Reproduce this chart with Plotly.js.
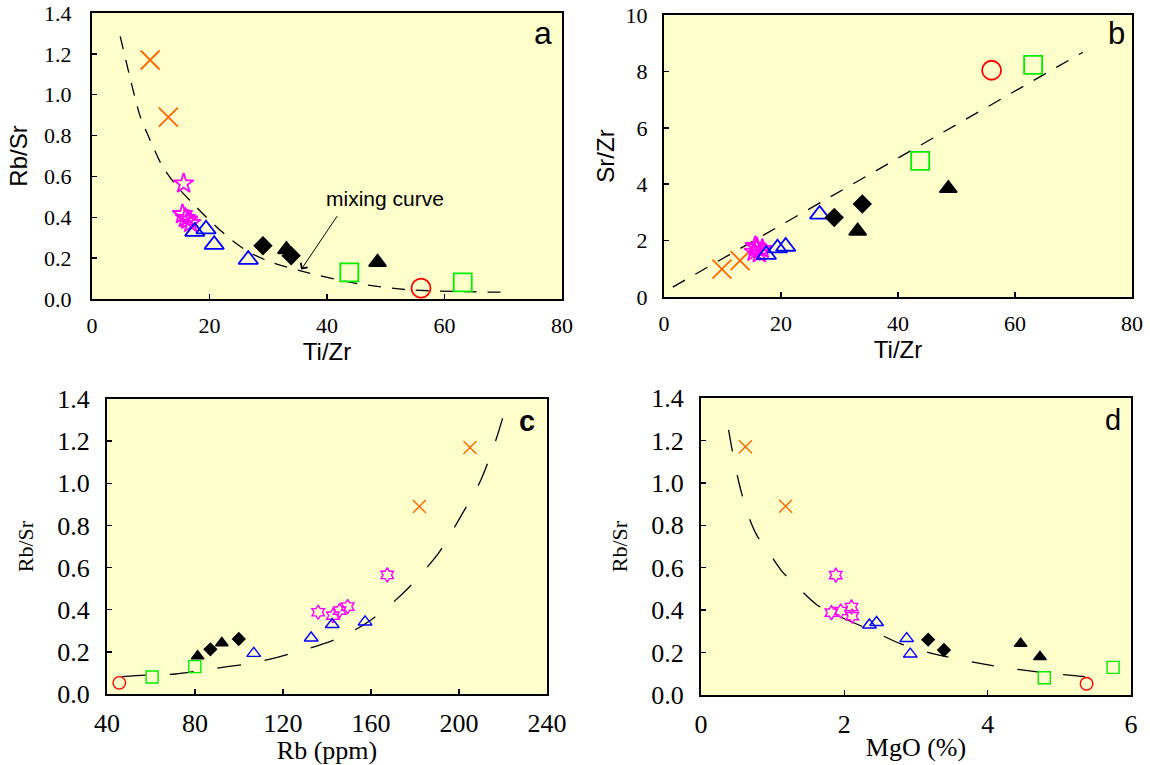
<!DOCTYPE html>
<html><head><meta charset="utf-8">
<script src="https://cdn.plot.ly/plotly-3.0.1.min.js"></script>
<style>html,body{margin:0;padding:0;background:#fff}#chart{width:1150px;height:765px}</style>
</head><body><div id="chart"></div><script>
// ---- sample data ----
// orange crosses
const crossTiZr = [9.9, 13.0];
const crossRbSr = [1.17, 0.89];
const crossSrZr = [0.99, 1.29];
const crossRb   = [205, 182];
const crossMgO  = [0.62, 1.18];
// magenta stars
const starTiZr = [15.6, 15.4, 15.9, 16.3, 16.8];
const starRbSr = [0.565, 0.415, 0.396, 0.388, 0.372];
const starSrZr = [1.8, 1.6, 1.75, 1.55, 1.7];
const starRb   = [167.4, 149.4, 145.7, 136.0, 142.7];
const starMgO  = [1.88, 2.10, 1.95, 1.82, 2.11];
// blue open triangles
const triTiZr = [17.5, 19.4, 20.8, 26.6];
const triRbSr = [0.330, 0.342, 0.266, 0.193];
const triSrZr = [1.50, 1.73, 1.79, 2.93];
const triRb   = [142.4, 157.3, 132.8, 106.7];
const triMgO  = [2.35, 2.45, 2.87, 2.92];
// black diamonds
const diaTiZr = [29.1, 33.9];
const diaRbSr = [0.261, 0.212];
const diaSrZr = [2.82, 3.30];
const diaRb   = [99.9, 87.0];
const diaMgO  = [3.17, 3.39];
// black filled triangles
const btTiZr = [33.1, 48.6];
const btRbSr = [0.242, 0.180];
const btSrZr = [2.34, 3.85];
const btRb   = [92.2, 81.2];
const btMgO  = [4.46, 4.73];
// green squares
const sqTiZr = [43.8, 63.1];
const sqRbSr = [0.130, 0.081];
const sqSrZr = [4.83, 8.23];
const sqRb   = [79.9, 60.5];
const sqMgO  = [5.75, 4.79];
// red circle
const cirTiZr = [56.0];
const cirRbSr = [0.053];
const cirSrZr = [8.04];
const cirRb   = [45.6];
const cirMgO  = [5.38];

// mixing curves
const curveA_x = [4.8, 6.7, 8.2, 9.5, 12.0, 14.5, 17.1, 19.6, 23.7, 27.0, 30.9, 36.5, 44.7, 53.5, 62.9, 70.4];
const curveA_y = [1.286, 1.057, 0.894, 0.804, 0.649, 0.55, 0.47, 0.396, 0.29, 0.225, 0.176, 0.13, 0.078, 0.046, 0.036, 0.033];
const curveB_x = [1.5, 71.6];
const curveB_y = [0.35, 8.68];
const curveC_x = [46.7, 58.5, 71.1, 82.1, 94.7, 105.7, 117.4, 129.2, 139.3, 149.4, 159.5, 167.9, 176.4, 183.1, 190.7, 200.8, 210.0, 216.8, 220.1];
const curveC_y = [0.082, 0.09, 0.095, 0.111, 0.13, 0.146, 0.174, 0.209, 0.241, 0.285, 0.348, 0.415, 0.497, 0.573, 0.668, 0.843, 1.017, 1.207, 1.318];
const curveD_x = [0.385, 0.436, 0.532, 0.649, 0.776, 0.953, 1.13, 1.36, 1.61, 1.97, 2.37, 2.78, 3.18, 3.59, 4.15, 4.76, 5.21, 5.59];
const curveD_y = [1.25, 1.153, 0.997, 0.856, 0.755, 0.669, 0.583, 0.505, 0.427, 0.364, 0.306, 0.242, 0.2, 0.169, 0.134, 0.106, 0.091, 0.081];

// axis labels / ticks
const titleA_x = 'Ti/Zr', titleA_y = 'Rb/Sr';
const titleB_x = 'Ti/Zr', titleB_y = 'Sr/Zr';
const titleC_x = 'Rb (ppm)', titleC_y = 'Rb/Sr';
const titleD_x = 'MgO (%)', titleD_y = 'Rb/Sr';
const panelLetters = ['a', 'b', 'c', 'd'];
const curveLabel = 'mixing curve';

// ---- styling ----
const SERIF = '"Liberation Serif", "Times New Roman", serif';
const SANS = '"Liberation Sans", Arial, sans-serif';
const BG = '#FFFFCC';
const W = 1150, H = 765;
const px = v => v / W, py = v => 1 - v / H;

const groupStyles = [
  {key: 'cross', sym: 'x-thin-open', symCD: 'x-thin-open', color: '#FF6600', fill: false, sAB: 19, sCD: 13},
  {key: 'star', sym: 'star-open', symCD: 'hexagram-open', color: '#FF00FF', fill: false, sAB: 15, sCD: 11},
  {key: 'tri', sym: 'triangle-up-open', symCD: 'triangle-up-open', color: '#0000FF', fill: false, sAB: 17, sCD: 12},
  {key: 'dia', sym: 'diamond', symCD: 'diamond', color: '#000000', fill: true, sAB: 13, sCD: 9.5},
  {key: 'bt', sym: 'triangle-up', symCD: 'triangle-up', color: '#000000', fill: true, sAB: 15, sCD: 11},
  {key: 'sq', sym: 'square-open', symCD: 'square-open', color: '#00EE00', fill: false, sAB: 18, sCD: 12},
  {key: 'cir', sym: 'circle-open', symCD: 'circle-open', color: '#FF0000', fill: false, sAB: 19, sCD: 12.5}
];
const groupData = {
  cross: {TiZr: crossTiZr, RbSr: crossRbSr, SrZr: crossSrZr, Rb: crossRb, MgO: crossMgO},
  star:  {TiZr: starTiZr, RbSr: starRbSr, SrZr: starSrZr, Rb: starRb, MgO: starMgO},
  tri:   {TiZr: triTiZr, RbSr: triRbSr, SrZr: triSrZr, Rb: triRb, MgO: triMgO},
  dia:   {TiZr: diaTiZr, RbSr: diaRbSr, SrZr: diaSrZr, Rb: diaRb, MgO: diaMgO},
  bt:    {TiZr: btTiZr, RbSr: btRbSr, SrZr: btSrZr, Rb: btRb, MgO: btMgO},
  sq:    {TiZr: sqTiZr, RbSr: sqRbSr, SrZr: sqSrZr, Rb: sqRb, MgO: sqMgO},
  cir:   {TiZr: cirTiZr, RbSr: cirRbSr, SrZr: cirSrZr, Rb: cirRb, MgO: cirMgO}
};
const panels = [
  {xa: 'x', ya: 'y', xv: 'TiZr', yv: 'RbSr', big: true, cx: curveA_x, cy: curveA_y, dash: '13px,11px'},
  {xa: 'x2', ya: 'y2', xv: 'TiZr', yv: 'SrZr', big: true, cx: curveB_x, cy: curveB_y, dash: '14px,12px'},
  {xa: 'x3', ya: 'y3', xv: 'Rb', yv: 'RbSr', big: false, cx: curveC_x, cy: curveC_y, dash: '24px,24px'},
  {xa: 'x4', ya: 'y4', xv: 'MgO', yv: 'RbSr', big: false, cx: curveD_x, cy: curveD_y, dash: '22px,24px'}
];

const traces = [];
panels.forEach(p => {
  traces.push({type: 'scatter', mode: 'lines', x: p.cx, y: p.cy, xaxis: p.xa, yaxis: p.ya,
    line: {color: '#000', width: 1.3, dash: p.dash, shape: p.cx.length > 2 ? 'spline' : 'linear', smoothing: 0.8},
    showlegend: false, hoverinfo: 'skip'});
  groupStyles.forEach(g => {
    const d = groupData[g.key];
    traces.push({type: 'scatter', mode: 'markers', x: d[p.xv], y: d[p.yv], xaxis: p.xa, yaxis: p.ya,
      marker: {symbol: p.big ? g.sym : g.symCD, size: p.big ? g.sAB : g.sCD,
        color: g.color,
        line: {color: g.color, width: p.big ? 1.8 : 1.4}},
      showlegend: false});
  });
});

function axis(dom, anchor, range, dtick, fmt, tsize, title, tfont, tfs, standoff, lstand) {
  return {domain: dom, anchor: anchor, range: range, dtick: dtick, tick0: range[0], tickformat: fmt,
    showgrid: false, zeroline: false, showline: true, mirror: true, linecolor: '#000', linewidth: 2,
    ticks: 'inside', ticklen: 5, tickwidth: 1.5, tickcolor: '#000', ticklabelstandoff: lstand,
    tickfont: {family: SERIF, size: tsize, color: '#000'},
    title: {text: title, font: {family: tfont, size: tfs, color: '#000'}, standoff: standoff},
    automargin: false, fixedrange: true};
}

const layout = {
  width: W, height: H, margin: {l: 0, r: 0, t: 0, b: 0},
  paper_bgcolor: '#fff', plot_bgcolor: BG, showlegend: false,
  font: {family: SERIF, color: '#000'},
  xaxis:  axis([px(92), px(562)], 'y', [0, 80], 20, 'd', 22, titleA_x, SANS, 24, 4, 6),
  yaxis:  axis([py(299), py(13)], 'x', [0, 1.4], 0.2, '.1f', 22, titleA_y, SANS, 24, 10, 14),
  xaxis2: axis([px(664), px(1132)], 'y2', [0, 80], 20, 'd', 22, titleB_x, SANS, 24, 4, 6),
  yaxis2: axis([py(297), py(15)], 'x2', [0, 10], 2, 'd', 22, titleB_y, SANS, 24, 4, 10),
  xaxis3: axis([px(107), px(547)], 'y3', [40, 240], 40, 'd', 26, titleC_x, SERIF, 26, 0, 5),
  yaxis3: axis([py(694), py(399)], 'x3', [0, 1.4], 0.2, '.1f', 26, titleC_y, SERIF, 22, 18, 10),
  xaxis4: axis([px(701), px(1131)], 'y4', [0, 6], 2, 'd', 26, titleD_x, SERIF, 26, 0, 5),
  yaxis4: axis([py(695), py(398)], 'x4', [0, 1.4], 0.2, '.1f', 26, titleD_y, SERIF, 22, 18, 10),
  annotations: [
    {xref: 'paper', yref: 'paper', x: px(543), y: py(33), text: panelLetters[0], showarrow: false, xanchor: 'center', yanchor: 'middle', font: {family: SANS, size: 32, color: '#000'}},
    {xref: 'paper', yref: 'paper', x: px(1116), y: py(34), text: panelLetters[1], showarrow: false, xanchor: 'center', yanchor: 'middle', font: {family: SANS, size: 31, color: '#000'}},
    {xref: 'paper', yref: 'paper', x: px(527), y: py(421), text: '<b>' + panelLetters[2] + '</b>', showarrow: false, xanchor: 'center', yanchor: 'middle', font: {family: SANS, size: 29, color: '#000'}},
    {xref: 'paper', yref: 'paper', x: px(1113), y: py(420), text: panelLetters[3], showarrow: false, xanchor: 'center', yanchor: 'middle', font: {family: SANS, size: 29, color: '#000'}},
    {xref: 'x', yref: 'y', x: 49.9, y: 0.494, text: curveLabel, showarrow: false, font: {family: SANS, size: 21, color: '#000'}},
    {xref: 'x', yref: 'y', axref: 'x', ayref: 'y', x: 35.6, y: 0.144, ax: 41.9, ay: 0.413, text: '', showarrow: true,
      arrowhead: 4, arrowsize: 1.6, arrowwidth: 1, arrowcolor: '#000'}
  ]
};

Plotly.newPlot('chart', traces, layout, {staticPlot: true, displayModeBar: false});
</script></body></html>
